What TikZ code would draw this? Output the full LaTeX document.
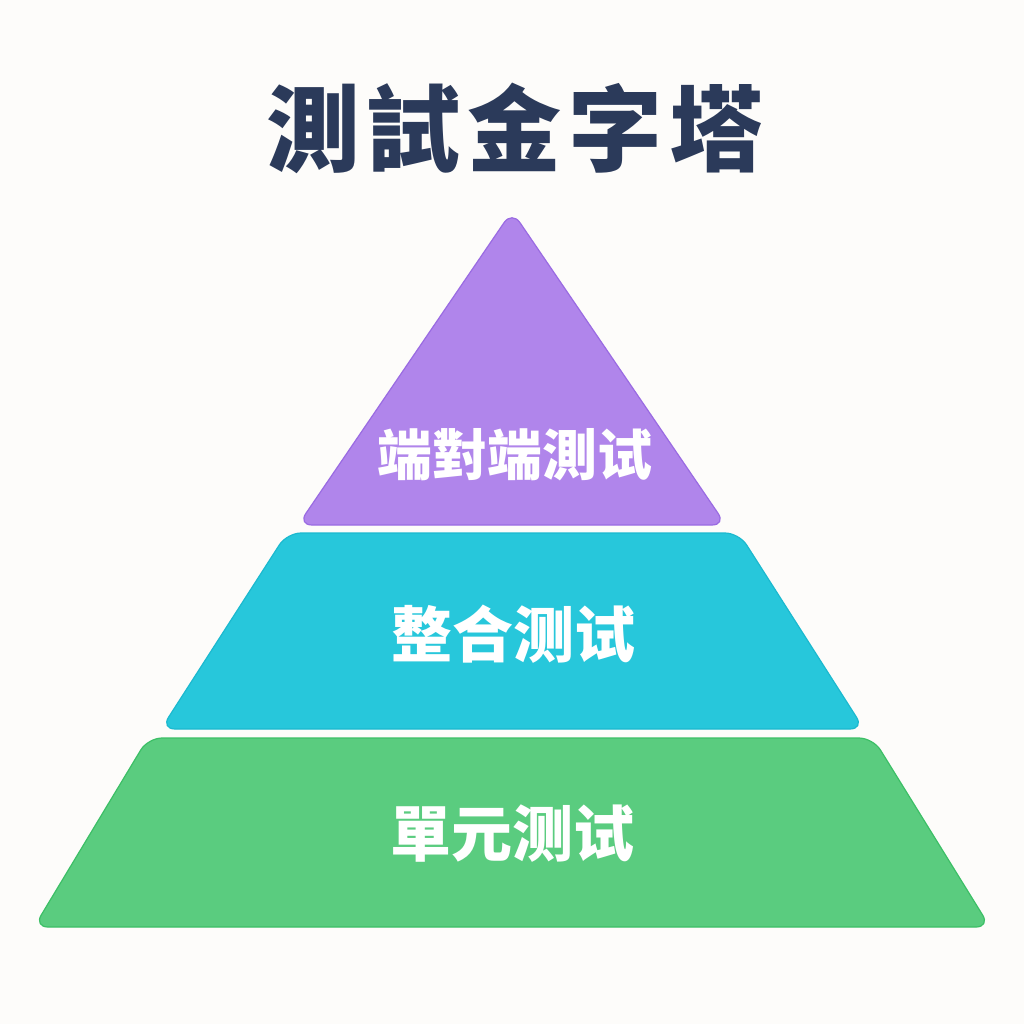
\documentclass[tikz,border=0pt]{standalone}
\usepackage{fontspec}
\newfontfamily\cjk{Noto Sans CJK TC}
\definecolor{bgc}{HTML}{FDFCFA}
\definecolor{titlec}{HTML}{2B3A5A}
\definecolor{purpf}{HTML}{B085EB}
\definecolor{purpd}{HTML}{9A6BE2}
\definecolor{cyanf}{HTML}{27C7DB}
\definecolor{cyand}{HTML}{1BB9CF}
\definecolor{greenf}{HTML}{5ACC7F}
\definecolor{greend}{HTML}{3CBF66}
\tikzset{
  layer/.style={rounded corners=14pt, line width=1.2pt},
  lbl/.style={text=white, font=\cjk\bfseries\fontsize{#1}{#1}\selectfont, inner sep=0pt},
}
\begin{document}
\begin{tikzpicture}[x=1pt,y=-1pt]
\fill[bgc] (0,0) rectangle (1024,1024);
\useasboundingbox (0,0) rectangle (1024,1024);
% title
\node[text=titlec, font=\cjk\bfseries\fontsize{94}{94}\selectfont, inner sep=0pt] (title) at (515,128) {測\hspace{7pt}試\hspace{7pt}金\hspace{7pt}字\hspace{7pt}塔};
% layers
\draw[layer, fill=purpf, draw=purpd] (512,211) -- (726,525) -- (298,525) -- cycle;
\draw[layer, fill=cyanf, draw=cyand] (287,533) -- (739,533) -- (864,729) -- (161,729) -- cycle;
\draw[layer, fill=greenf, draw=greend] (148,738) -- (873,738) -- (990,927) -- (34,927) -- cycle;
% labels
\node[lbl=55] (top) at (515,455) {端對端測试};
\node[lbl=61] (mid) at (513,634) {整合测试};
\node[lbl=61] (bot) at (512,834) {單元测试};
\end{tikzpicture}
\end{document}
